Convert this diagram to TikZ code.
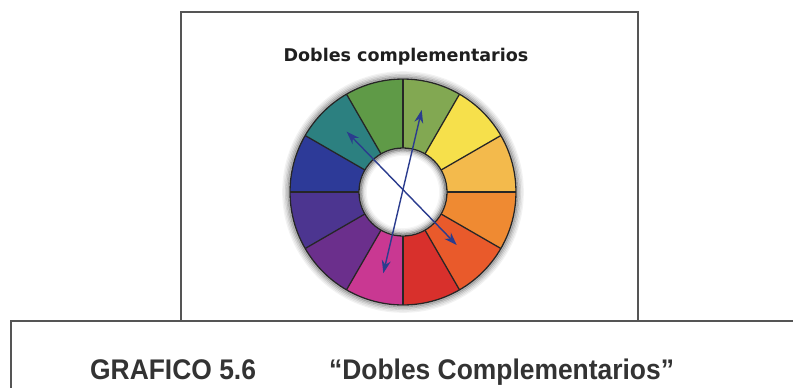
\documentclass[tikz,border=0pt]{standalone}
\usepackage{fontspec}
\setmainfont{Liberation Sans}
\newfontfamily\titlefont{DejaVu Sans}
\usetikzlibrary{arrows.meta}
\definecolor{frame}{HTML}{555555}
\definecolor{arrowblue}{HTML}{2B3C8E}
\definecolor{cA}{HTML}{F3BA4C}
\definecolor{cB}{HTML}{F6E04B}
\definecolor{cC}{HTML}{82A852}
\definecolor{cD}{HTML}{5F9A47}
\definecolor{cE}{HTML}{2C8080}
\definecolor{cF}{HTML}{2D3A98}
\definecolor{cG}{HTML}{4C3590}
\definecolor{cH}{HTML}{6B2F8C}
\definecolor{cI}{HTML}{C93892}
\definecolor{cJ}{HTML}{D8302C}
\definecolor{cK}{HTML}{E95A2B}
\definecolor{cL}{HTML}{EF8A32}
\tikzset{
  frameline/.style={draw=frame, line width=1.3bp},
  sepline/.style={draw=black!85, line width=1.3bp},
  dblarrow/.style={draw=arrowblue, line width=1.4bp, {Stealth[length=13bp,width=9bp]}-{Stealth[length=13bp,width=9bp]}},
  captext/.style={text=black!80, font=\fontsize{28.5}{30}\selectfont\bfseries, xscale=0.93, anchor=base west, inner sep=0},
}
\begin{document}
\begin{tikzpicture}[x=1bp,y=1bp]
\useasboundingbox (0,-388) rectangle (793,0);
\fill[white] (0,-388) rectangle (793,0);
% frames
\coordinate (tl) at (181,-12);
\coordinate (tr) at (638,-12);
\coordinate (bl) at (181,-321);
\coordinate (br) at (638,-321);
\coordinate (ql) at (11,-321);
\coordinate (qr) at (793,-321);
\coordinate (qb) at (11,-388);
\draw[frameline] (bl) -- (tl) -- (tr) -- (br);
\draw[frameline] (qr) -- (ql) -- (qb);
% title
\node[anchor=base, inner sep=0, text=black!88, font=\titlefont\bfseries\fontsize{17.6}{19}\selectfont] (title) at (406,-61) {Dobles complementarios};
% wheel
\coordinate (c) at (403,-192);
\begin{scope}[shift={(c)}]
  % outer shadow
  \foreach \k/\o in {1/0.30,2/0.22,3/0.15,4/0.09,5/0.05}{
    \draw[black, opacity=\o, line width=1.6bp] (0,0) circle[radius=113+\k*1.4];
  }
  \foreach \a/\col in {0/cA,30/cB,60/cC,90/cD,120/cE,150/cF,180/cG,210/cH,240/cI,270/cJ,300/cK,330/cL}{
    \fill[\col] (\a:44) -- (\a:113) arc[start angle=\a, end angle=\a+30, radius=113] -- (\a+30:44) arc[start angle=\a+30, end angle=\a, radius=44] -- cycle;
  }
  \foreach \a in {0,30,...,330}{
    \draw[sepline] (\a:44) -- (\a:113);
  }
  \draw[sepline] (0,0) circle[radius=113];
  % inner hole
  \fill[white] (0,0) circle[radius=44];
  \foreach \k/\o in {1/0.40,2/0.26,3/0.15,4/0.08,5/0.04}{
    \draw[black, opacity=\o, line width=1.6bp] (0,0) circle[radius=44-\k*1.4];
  }
  \draw[sepline] (0,0) circle[radius=44];
\end{scope}
% arrows
\coordinate (p1) at (383.3,-273.3);
\coordinate (p2) at (421.7,-110);
\coordinate (p3) at (346.7,-131.7);
\coordinate (p4) at (456.7,-245);
\draw[dblarrow] (p1) -- (p2);
\draw[dblarrow] (p3) -- (p4);
% caption
\node[captext] (cap1) at (90,-379) {GRAFICO 5.6};
\node[captext] (cap2) at (329,-379) {“Dobles Complementarios”};
\end{tikzpicture}
\end{document}
